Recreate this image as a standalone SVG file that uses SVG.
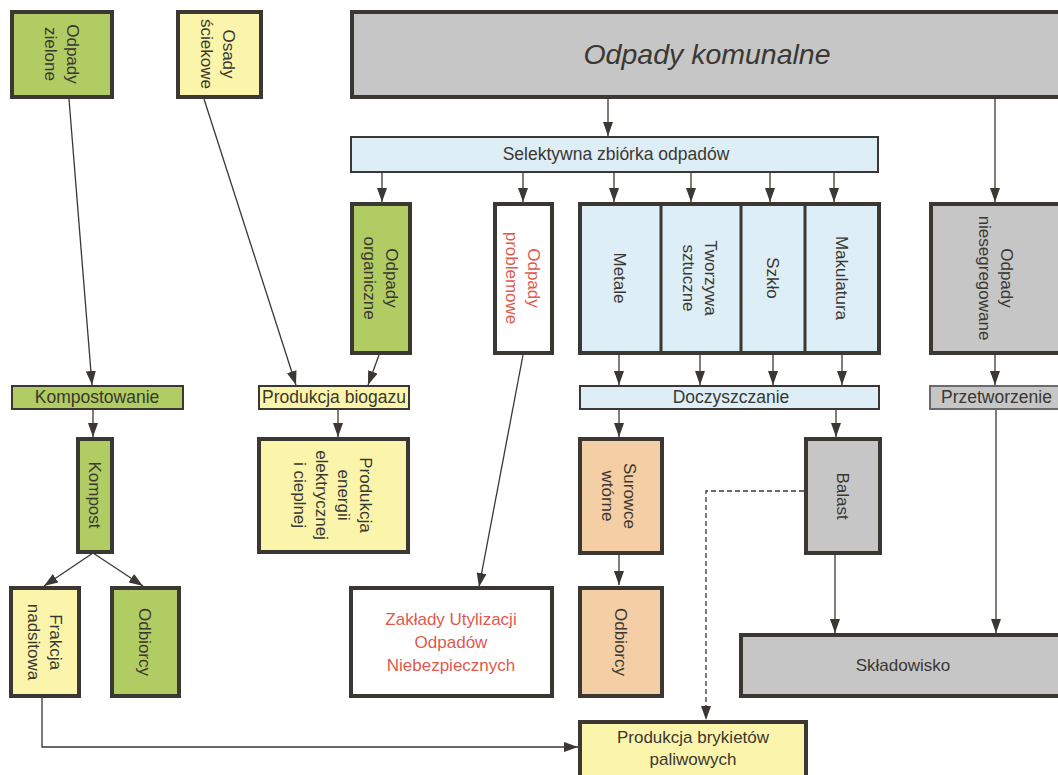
<svg xmlns="http://www.w3.org/2000/svg" width="1058" height="775" viewBox="0 0 1058 775">
<defs>
<marker id="ah" markerUnits="userSpaceOnUse" markerWidth="15" markerHeight="10" refX="14" refY="5" orient="auto">
<path d="M0,0 L14,5 L0,10 z" fill="#3b3732"/>
</marker>
<style>
text{font-family:"Liberation Sans",Arial,sans-serif;font-size:17px;fill:#3b3732}
.big{stroke:#3b3732;stroke-width:4}
.bar{stroke:#3b3732;stroke-width:2}
.grn{fill:#b0cc63}
.yel{fill:#faf5ab}
.blu{fill:#ddeef6}
.gry{fill:#c6c6c6}
.pch{fill:#f4cfa5}
.wht{fill:#ffffff}
.red{fill:#e05a4c}
.ln{fill:none;stroke:#3b3732;stroke-width:1.3;marker-end:url(#ah)}
.dash{fill:none;stroke:#3b3732;stroke-width:1.3;stroke-dasharray:5 3;marker-end:url(#ah)}
</style>
</defs>
<rect width="1058" height="775" fill="#ffffff"/>

<g id="connectors">
<path class="ln" d="M69,99 L92,385"/>
<path class="ln" d="M204,99 L296,385"/>
<path class="ln" d="M608,99 L608,136"/>
<path class="ln" d="M995,99 L995,202"/>
<path class="ln" d="M382,173 L382,202"/>
<path class="ln" d="M523,173 L523,202"/>
<path class="ln" d="M614,173 L614,202"/>
<path class="ln" d="M691,173 L691,202"/>
<path class="ln" d="M770,173 L770,202"/>
<path class="ln" d="M834,173 L834,202"/>
<path class="ln" d="M379,355 L368,385"/>
<path class="ln" d="M523,355 L479,587"/>
<path class="ln" d="M619,355 L619,385"/>
<path class="ln" d="M700,355 L700,385"/>
<path class="ln" d="M773,355 L773,385"/>
<path class="ln" d="M842,355 L842,385"/>
<path class="ln" d="M995,355 L995,385"/>
<path class="ln" d="M93,409 L93,437"/>
<path class="ln" d="M338,409 L338,437"/>
<path class="ln" d="M619,409 L619,437"/>
<path class="ln" d="M836,409 L836,437"/>
<path class="ln" d="M93,553 L44,586"/>
<path class="ln" d="M93,553 L143,586"/>
<path class="ln" d="M619,554 L619,585"/>
<path class="ln" d="M835,554 L835,633"/>
<path class="ln" d="M996,409 L996,633"/>
<path class="dash" d="M804,491 L706,491 L706,720"/>
<path class="ln" d="M42,697 L42,747 L578,747"/>
</g>

<g id="odpady-zielone">
<rect class="big grn" x="12" y="12" width="100" height="85"/>
<text transform="translate(62 54) rotate(90)" text-anchor="middle"><tspan x="0" y="-5">Odpady</tspan><tspan x="0" y="17">zielone</tspan></text>
</g>

<g id="osady-sciekowe">
<rect class="big yel" x="178" y="12" width="83" height="85"/>
<text transform="translate(218 54) rotate(90)" text-anchor="middle"><tspan x="0" y="-5">Osady</tspan><tspan x="0" y="17">ściekowe</tspan></text>
</g>

<g id="odpady-komunalne">
<rect class="big gry" x="352" y="12" width="712" height="85"/>
<text x="707" y="64" text-anchor="middle" style="font-size:28.5px;font-style:italic">Odpady komunalne</text>
</g>

<g id="selektywna">
<rect class="bar blu" x="351" y="137" width="527" height="35"/>
<text x="616" y="160" text-anchor="middle" style="font-size:17.5px">Selektywna zbiórka odpadów</text>
</g>

<g id="odpady-organiczne">
<rect class="big grn" x="352" y="204" width="58" height="149"/>
<text transform="translate(381 278) rotate(90)" text-anchor="middle"><tspan x="0" y="-5">Odpady</tspan><tspan x="0" y="17">organiczne</tspan></text>
</g>

<g id="odpady-problemowe">
<rect class="big wht" x="495" y="204" width="57" height="149"/>
<text class="red" transform="translate(523 278) rotate(90)" text-anchor="middle"><tspan x="0" y="-5">Odpady</tspan><tspan x="0" y="17">problemowe</tspan></text>
</g>

<g id="surowce-grupa">
<rect class="big blu" x="580" y="204" width="299" height="149"/>
<path d="M661,204 V353 M741,204 V353 M805,204 V353" stroke="#3b3732" stroke-width="3"/>
<text transform="translate(620 278) rotate(90)" text-anchor="middle"><tspan x="0" y="6">Metale</tspan></text>
<text transform="translate(700 278) rotate(90)" text-anchor="middle"><tspan x="0" y="-5">Tworzywa</tspan><tspan x="0" y="17">sztuczne</tspan></text>
<text transform="translate(773 278) rotate(90)" text-anchor="middle"><tspan x="0" y="6">Szkło</tspan></text>
<text transform="translate(842 278) rotate(90)" text-anchor="middle"><tspan x="0" y="6">Makulatura</tspan></text>
</g>

<g id="odpady-niesegregowane">
<rect class="big gry" x="931" y="204" width="134" height="149"/>
<text transform="translate(996 278) rotate(90)" text-anchor="middle"><tspan x="0" y="-5">Odpady</tspan><tspan x="0" y="17">niesegregowane</tspan></text>
</g>

<g id="kompostowanie">
<rect class="bar grn" x="12" y="386" width="171" height="23"/>
<text x="97" y="403" text-anchor="middle" style="font-size:17.5px">Kompostowanie</text>
</g>

<g id="produkcja-biogazu">
<rect class="bar yel" x="259" y="386" width="150" height="23"/>
<text x="334" y="403" text-anchor="middle" style="font-size:17.5px">Produkcja biogazu</text>
</g>

<g id="doczyszczanie">
<rect class="bar blu" x="580" y="386" width="299" height="23"/>
<text x="731" y="403" text-anchor="middle" style="font-size:17.5px">Doczyszczanie</text>
</g>

<g id="przetworzenie">
<rect x="930" y="386" width="134" height="23" fill="#c6c6c6" stroke="#6a6a6a" stroke-width="2"/>
<text x="941" y="403" style="font-size:17.5px">Przetworzenie</text>
</g>

<g id="kompost">
<rect class="big grn" x="78" y="439" width="34" height="113"/>
<text transform="translate(95 495) rotate(90)" text-anchor="middle"><tspan x="0" y="6">Kompost</tspan></text>
</g>

<g id="produkcja-energii">
<rect class="big yel" x="259" y="439" width="149" height="113"/>
<text transform="translate(333 495) rotate(90)" text-anchor="middle"><tspan x="0" y="-27">Produkcja</tspan><tspan x="0" y="-5">energii</tspan><tspan x="0" y="17">elektrycznej</tspan><tspan x="0" y="39">i cieplnej</tspan></text>
</g>

<g id="surowce-wtorne">
<rect class="big pch" x="580" y="439" width="82" height="114"/>
<text transform="translate(619 496) rotate(90)" text-anchor="middle"><tspan x="0" y="-5">Surowce</tspan><tspan x="0" y="17">wtórne</tspan></text>
</g>

<g id="balast">
<rect class="big gry" x="806" y="439" width="74" height="114"/>
<text transform="translate(843 496) rotate(90)" text-anchor="middle"><tspan x="0" y="6">Balast</tspan></text>
</g>

<g id="frakcja-nadsitowa">
<rect class="big yel" x="11" y="588" width="68" height="108"/>
<text transform="translate(45 642) rotate(90)" text-anchor="middle"><tspan x="0" y="-5">Frakcja</tspan><tspan x="0" y="17">nadsitowa</tspan></text>
</g>

<g id="odbiorcy-kompost">
<rect class="big grn" x="112" y="588" width="67" height="108"/>
<text transform="translate(145 642) rotate(90)" text-anchor="middle"><tspan x="0" y="6">Odbiorcy</tspan></text>
</g>

<g id="zaklady-utylizacji">
<rect class="big wht" x="351" y="588" width="201" height="108"/>
<text class="red" x="451" y="625" text-anchor="middle">Zakłady Utylizacji</text>
<text class="red" x="451" y="648" text-anchor="middle">Odpadów</text>
<text class="red" x="451" y="671" text-anchor="middle">Niebezpiecznych</text>
</g>

<g id="odbiorcy-surowce">
<rect class="big pch" x="580" y="588" width="82" height="108"/>
<text transform="translate(621 642) rotate(90)" text-anchor="middle"><tspan x="0" y="6">Odbiorcy</tspan></text>
</g>

<g id="skladowisko">
<rect class="big gry" x="741" y="635" width="324" height="61"/>
<text x="903" y="671" text-anchor="middle">Składowisko</text>
</g>

<g id="produkcja-brykietow">
<rect class="big yel" x="580" y="722" width="226" height="56"/>
<text x="693" y="743" text-anchor="middle">Produkcja brykietów</text>
<text x="693" y="765" text-anchor="middle">paliwowych</text>
</g>
</svg>
